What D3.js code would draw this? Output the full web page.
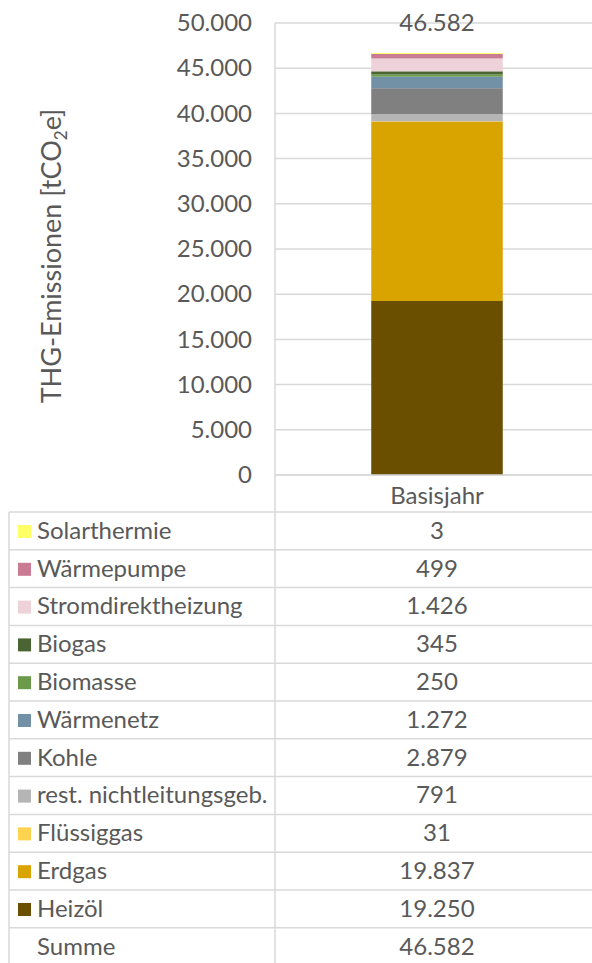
<!DOCTYPE html>
<html>
<head>
<meta charset="utf-8">
<script src="https://cdn.jsdelivr.net/npm/d3@7"></script>
<style>
    body { margin: 0; background: #fff; }
    svg text { font-family: Lato, "Open Sans", sans-serif; fill: #595959; }
</style>
</head>
<body>
<svg width="592" height="963"></svg>
<script>
'use strict';

// categories listed bottom-up in the stack
const sources = ["Heizöl", "Erdgas", "Flüssiggas", "rest. nichtleitungsgeb.", "Kohle",
    "Wärmenetz", "Biomasse", "Biogas", "Stromdirektheizung", "Wärmepumpe", "Solarthermie"];
const values = [19250, 19837, 31, 791, 2879, 1272, 250, 345, 1426, 499, 3];
const colors = ["#6b4f00", "#d9a400", "#ffd34f", "#b5b5b5", "#808080",
    "#7290a6", "#6a9a4a", "#4a6432", "#edd2da", "#c97b93", "#ffff66"];
const years = ["Basisjahr"];
const totals = [46582];
const yTicks = [0, 5000, 10000, 15000, 20000, 25000, 30000, 35000, 40000, 45000, 50000];

let svg = d3.select("svg");
let de = d3.formatLocale({decimal: ",", thousands: ".", grouping: [3], currency: ["", "€"]});
let fmt = de.format(",.0f");

let pLeft = 275, pRight = 592, pTop = 23, pBottom = 475, rowH = 37.8;
let grid = "#d9d9d9", fs = "24px";
let colCenter = 437;

let y = d3.scaleLinear().domain([0, 50000]).range([pBottom, pTop]);
let x = d3.scaleBand().domain(years).range([pLeft, 2 * colCenter - pLeft]).paddingInner(0.59).paddingOuter(0.3);

// gridlines
svg.append("g").selectAll("line")
    .data(yTicks).enter()
    .append("line")
    .attr("x1", pLeft).attr("x2", pRight)
    .attr("y1", d => y(d)).attr("y2", d => y(d))
    .attr("stroke", grid).attr("stroke-width", 1.5);

// left frame of plot + column divider down through table
svg.append("line").attr("x1", pLeft).attr("x2", pLeft).attr("y1", pTop).attr("y2", 963)
    .attr("stroke", grid).attr("stroke-width", 1.5);

// y axis labels
let yAxis = d3.axisLeft(y).tickValues(yTicks).tickFormat(fmt).tickSize(0).tickPadding(23);
let ga = svg.append("g").attr("transform", `translate(${pLeft},0)`).call(yAxis);
ga.select(".domain").remove();
ga.selectAll("text").style("font-size", fs).style("font-family", "Lato").attr("fill", "#595959");

// y title
let title = svg.append("text")
    .attr("transform", "translate(61,256) rotate(-90)")
    .attr("text-anchor", "middle")
    .style("font-size", "27px");
title.append("tspan").text("THG-Emissionen [tCO");
title.append("tspan").attr("dy", 6).style("font-size", "17px").text("2");
title.append("tspan").attr("dy", -6).text("e]");

// stacked bar
let stacked = [];
let acc = 0;
values.forEach(function (v, i) {
    stacked.push({name: sources[i], y0: acc, y1: acc + v, color: colors[i]});
    acc += v;
});

// tiny segments still get one visible pixel, like the original renderer
svg.append("g").selectAll("rect")
    .data(stacked).enter()
    .append("rect")
    .attr("x", x(years[0]))
    .attr("width", x.bandwidth())
    .attr("y", d => Math.min(y(d.y1), y(d.y0) - 1))
    .attr("height", d => Math.max(1, y(d.y0) - y(d.y1)))
    .attr("fill", d => d.color);

// total label
svg.append("text")
    .attr("x", x(years[0]) + x.bandwidth() / 2)
    .attr("y", y(totals[0]) - 23)
    .attr("text-anchor", "middle")
    .style("font-size", fs)
    .text(fmt(totals[0]));

// category row
svg.append("text")
    .attr("x", colCenter).attr("y", pBottom + 29)
    .attr("text-anchor", "middle").style("font-size", fs)
    .text(years[0]);

// data table
let tableTop = 512;
let rows = sources.map((s, i) => ({name: s, value: values[i], color: colors[i]})).reverse();
rows.push({name: "Summe", value: totals[0], color: null});

let table = svg.append("g");
// horizontal lines
table.selectAll("line.h")
    .data(d3.range(rows.length + 1)).enter()
    .append("line")
    .attr("class", "h")
    .attr("x1", 9).attr("x2", pRight)
    .attr("y1", d => tableTop + d * rowH).attr("y2", d => tableTop + d * rowH)
    .attr("stroke", grid).attr("stroke-width", 1.5);
// x-axis baseline (right part only)
table.append("line").attr("x1", pLeft).attr("x2", pRight).attr("y1", pBottom).attr("y2", pBottom)
    .attr("stroke", grid).attr("stroke-width", 1.5);
// left border
table.append("line").attr("x1", 9).attr("x2", 9).attr("y1", tableTop).attr("y2", 963)
    .attr("stroke", grid).attr("stroke-width", 1.5);

let row = table.selectAll("g.row")
    .data(rows).enter()
    .append("g")
    .attr("class", "row")
    .attr("transform", (d, i) => `translate(0,${tableTop + i * rowH})`);

row.filter(d => d.color)
    .append("rect")
    .attr("x", 18).attr("y", 13).attr("width", 13).attr("height", 13)
    .attr("fill", d => d.color);

row.append("text")
    .attr("x", 37).attr("y", rowH / 2 + 8)
    .style("font-size", fs)
    .text(d => d.name);

row.append("text")
    .attr("x", colCenter).attr("y", rowH / 2 + 8)
    .attr("text-anchor", "middle")
    .style("font-size", fs)
    .text(d => fmt(d.value));
</script>
</body>
</html>
